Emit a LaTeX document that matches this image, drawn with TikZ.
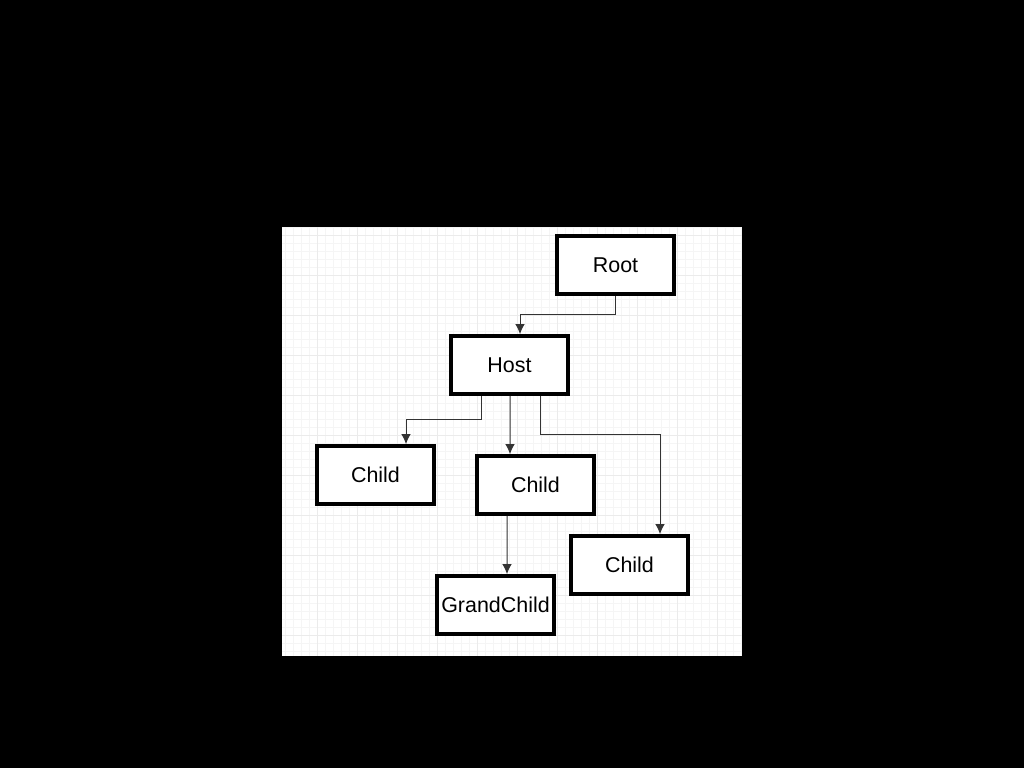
\documentclass[tikz,border=0pt]{standalone}
\usepackage{fontspec}
\setmainfont{Liberation Sans}
\usetikzlibrary{backgrounds,calc,arrows.meta}
\tikzset{>={Latex[length=2mm,width=1.9mm]}}
\tikzset{
    box/.style={draw=black, line width=0.085cm, fill=white, minimum width=2.33cm, minimum height=1.15cm, inner sep=0pt, font=\fontsize{12.2pt}{14pt}\selectfont},
    link/.style={->, draw=black!80, line width=0.02cm},
}

\begin{document}
\begin{tikzpicture}[x=0.02cm, y=-0.02cm]
    \begin{scope}[on background layer]
        \fill[black] (0,0) rectangle (1024,768);
        \fill[white] (282,227) rectangle (742,656);
        \foreach \x in {285,293,...,741} \draw[black!4, line width=0.02cm] (\x,227) -- (\x,656);
        \foreach \y in {227,235,...,655} \draw[black!4, line width=0.02cm] (282,\y) -- (742,\y);
        \foreach \x in {317,357,...,717} \draw[black!8, line width=0.02cm] (\x,227) -- (\x,656);
        \foreach \y in {235,275,...,635} \draw[black!8, line width=0.02cm] (282,\y) -- (742,\y);
    \end{scope}

    \node[box] (root) at (615.5,265) {Root};
    \node[box] (host) at (509.5,365) {Host};
    \node[box] (childA) at (375.5,475) {Child};
    \node[box] (childB) at (535.5,485) {Child};
    \node[box] (childC) at (629.5,565) {Child};
    \node[box] (grand) at (495.5,605) {GrandChild};

    \draw[link] (root.south) -- ++(0,19) -| ($(host.north)+(10.5,0)$);
    \draw[link] ($(host.south)+(-28.5,0)$) -- ++(0,24) -| ($(childA.north)+(30.5,0)$);
    \draw[link] ($(host.south)+(0.5,0)$) -- ($(childB.north)+(-25.5,0)$);
    \draw[link] ($(host.south)+(30.5,0)$) -- ++(0,39) -| ($(childC.north)+(30.5,0)$);
    \draw[link] ($(childB.south)+(-28.5,0)$) -- ($(grand.north)+(11.5,0)$);
\end{tikzpicture}
\end{document}
